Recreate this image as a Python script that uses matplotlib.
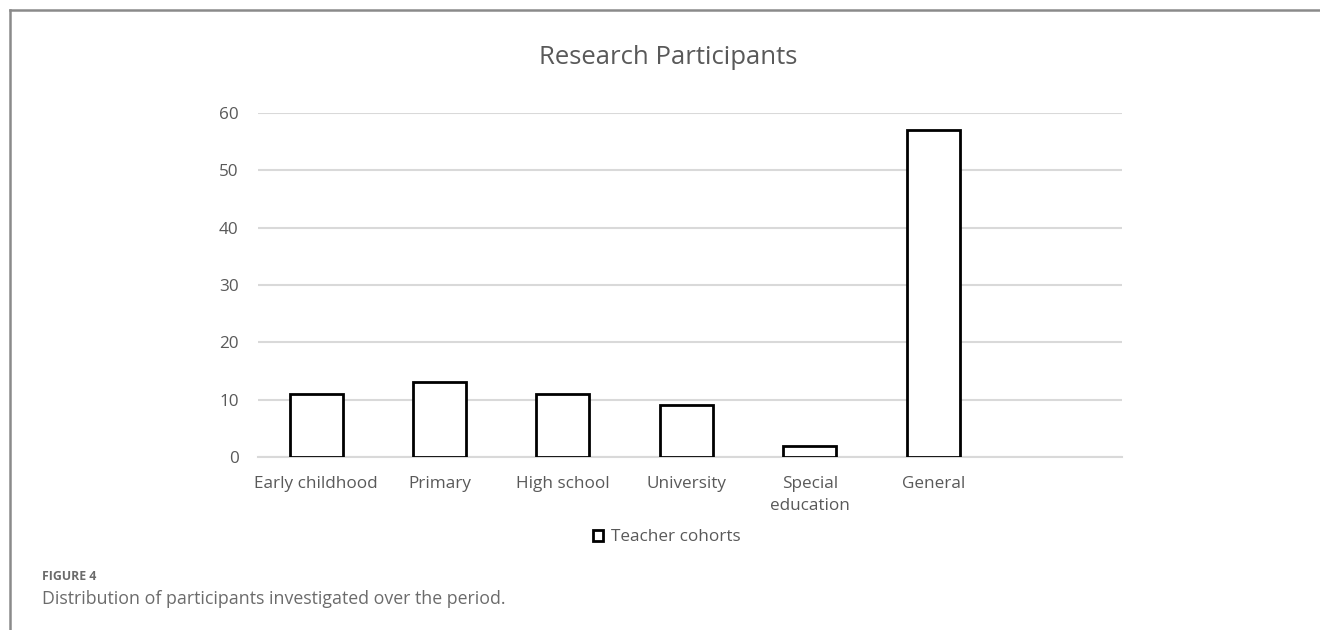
import numpy as np
import matplotlib.pyplot as plt
from matplotlib.lines import Line2D
from matplotlib.patches import Patch

categories = ["Early childhood", "Primary", "High school", "University", "Special\neducation", "General"]
values = [11, 13, 11, 9, 2, 57]
yticks = [0, 10, 20, 30, 40, 50, 60]

plt.rcParams['font.family'] = ['Open Sans', 'DejaVu Sans']
grey_txt = "#595959"

fig = plt.figure(figsize=(13.2, 6.3), dpi=100)
ax = fig.add_axes([0.1955, 0.2746, 0.6545, 0.546])

x = np.arange(len(categories))
ax.bar(x, values, width=0.43, facecolor="white", edgecolor="black", linewidth=2, zorder=3,
       label="Teacher cohorts")
ax.set_xlim(-0.47, len(categories) + 0.53)
ax.set_ylim(0, 60)
ax.set_yticks(yticks)
ax.set_yticklabels([str(v) for v in yticks], color=grey_txt, fontsize=12.3)
ax.set_xticks(x)
ax.set_xticklabels(categories, color=grey_txt, fontsize=12.3, va="top", linespacing=1.5)
ax.tick_params(axis="y", length=0, pad=14)
ax.tick_params(axis="x", length=0, pad=14)
ax.grid(axis="y", color="#d9d9d9", linewidth=1.5, zorder=0)
for s in ["top", "right", "left"]:
    ax.spines[s].set_visible(False)
ax.spines["bottom"].set_color("#d9d9d9")
ax.spines["bottom"].set_linewidth(1.5)
fig.text(668 / 1320, 1 - 57 / 630, "Research Participants", fontsize=18.5, color=grey_txt,
         ha="center", va="center")

handle = Patch(facecolor="white", edgecolor="black", linewidth=2)
fig.legend([handle], ["Teacher cohorts"], loc="center", bbox_to_anchor=(0.505, 0.147),
           frameon=False, fontsize=12.3, labelcolor=grey_txt, handlelength=0.6,
           handleheight=0.6, handletextpad=0.45)

# figure frame (left and top)
fig.add_artist(Line2D([10 / 1320, 10 / 1320], [0, 1 - 10 / 630], transform=fig.transFigure,
                      color="#8a8a8a", linewidth=1.8))
fig.add_artist(Line2D([10 / 1320, 1], [1 - 10 / 630, 1 - 10 / 630], transform=fig.transFigure,
                      color="#8a8a8a", linewidth=1.8))

fig.text(42 / 1320, 1 - 577 / 630, "FIGURE 4", fontsize=8.8, fontweight="bold", color="#6b6b6b",
         va="center")
fig.text(42 / 1320, 1 - 599 / 630, "Distribution of participants investigated over the period.",
         fontsize=12.8, color="#6b6b6b", va="center")

plt.savefig("out.png", dpi=100)
